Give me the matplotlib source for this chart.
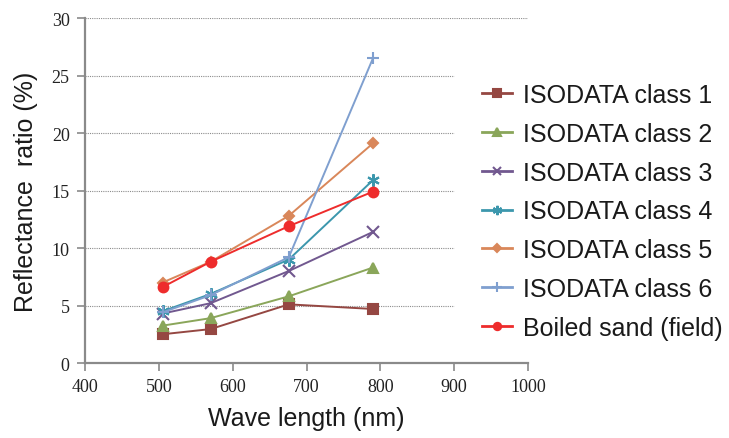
import matplotlib
matplotlib.use("Agg")
import matplotlib.pyplot as plt

# wavelengths (nm) of the four bands
wavelength = [505, 570, 676, 790]

labels = ["ISODATA class 1", "ISODATA class 2", "ISODATA class 3",
          "ISODATA class 4", "ISODATA class 5", "ISODATA class 6",
          "Boiled sand (field)"]

class1 = [2.5, 2.95, 5.1, 4.7]
class2 = [3.25, 3.9, 5.8, 8.3]
class3 = [4.3, 5.2, 8.0, 11.4]
class4 = [4.5, 6.0, 9.0, 15.9]
class5 = [7.0, 8.8, 12.8, 19.1]
class6 = [4.4, 5.9, 9.2, 26.5]
boiled = [6.6, 8.8, 11.9, 14.9]

series = [class1, class2, class3, class4, class5, class6, boiled]

colors = ["#954742", "#8aa65a", "#71588f", "#3c97ad", "#d9875a", "#7f9fcf", "#ee2c2c"]
markers = ["s", "^", "x", (6, 2, 0), "D", "+", "o"]
msizes = [7, 7, 8, 9, 5, 9, 7]

yticks = [0, 5, 10, 15, 20, 25, 30]
xticks = [400, 500, 600, 700, 800, 900, 1000]

fig = plt.figure(figsize=(7.29, 4.39), dpi=100)
ax = fig.add_axes([0.1166, 0.1708, 0.6077, 0.7859])

# dotted horizontal grid; the legend block hides its right part
for y in yticks[1:-1]:
    ax.plot([400, 900], [y, y], color="#8c8c8c", lw=0.8, ls=(0, (1, 1)), zorder=1)
ax.plot([400, 1000], [30, 30], color="#8c8c8c", lw=0.8, ls=(0, (1, 1)), zorder=1)

handles = []
for vals, lab, c, m, ms in zip(series, labels, colors, markers, msizes):
    h, = ax.plot(wavelength, vals, color=c, marker=m, markersize=ms, lw=1.4,
                 markeredgewidth=1.5, label=lab, zorder=3)
    handles.append(h)

ax.set_xlim(400, 1000)
ax.set_ylim(0, 30)
ax.set_xticks(xticks)
ax.set_yticks(yticks)
for lab in ax.get_xticklabels() + ax.get_yticklabels():
    lab.set_fontfamily("Liberation Serif")
    lab.set_fontsize(13)
    lab.set_color("#222222")

for s in ["top", "right"]:
    ax.spines[s].set_visible(False)
for s in ["left", "bottom"]:
    ax.spines[s].set_color("#8a8a8a")
    ax.spines[s].set_linewidth(1.6)
ax.tick_params(axis="both", direction="out", length=6, width=1.2, color="#8a8a8a", pad=5)

ax.set_xlabel("Wave length (nm)", fontsize=18, family="Liberation Sans", color="#1a1a1a", labelpad=8)
ax.set_ylabel("Reflectance  ratio (%)", fontsize=18, family="Liberation Sans", color="#1a1a1a", labelpad=10)

leg = fig.legend(handles=handles, loc="center left", bbox_to_anchor=(0.630, 0.516),
                 frameon=False, prop={"family": "Liberation Sans", "size": 18},
                 handlelength=1.2, handletextpad=0.45, labelspacing=0.59,
                 markerscale=0.75)
for t in leg.get_texts():
    t.set_color("#1a1a1a")
for ln in leg.get_lines():
    ln.set_linewidth(2)

fig.savefig("out.png", dpi=100)
